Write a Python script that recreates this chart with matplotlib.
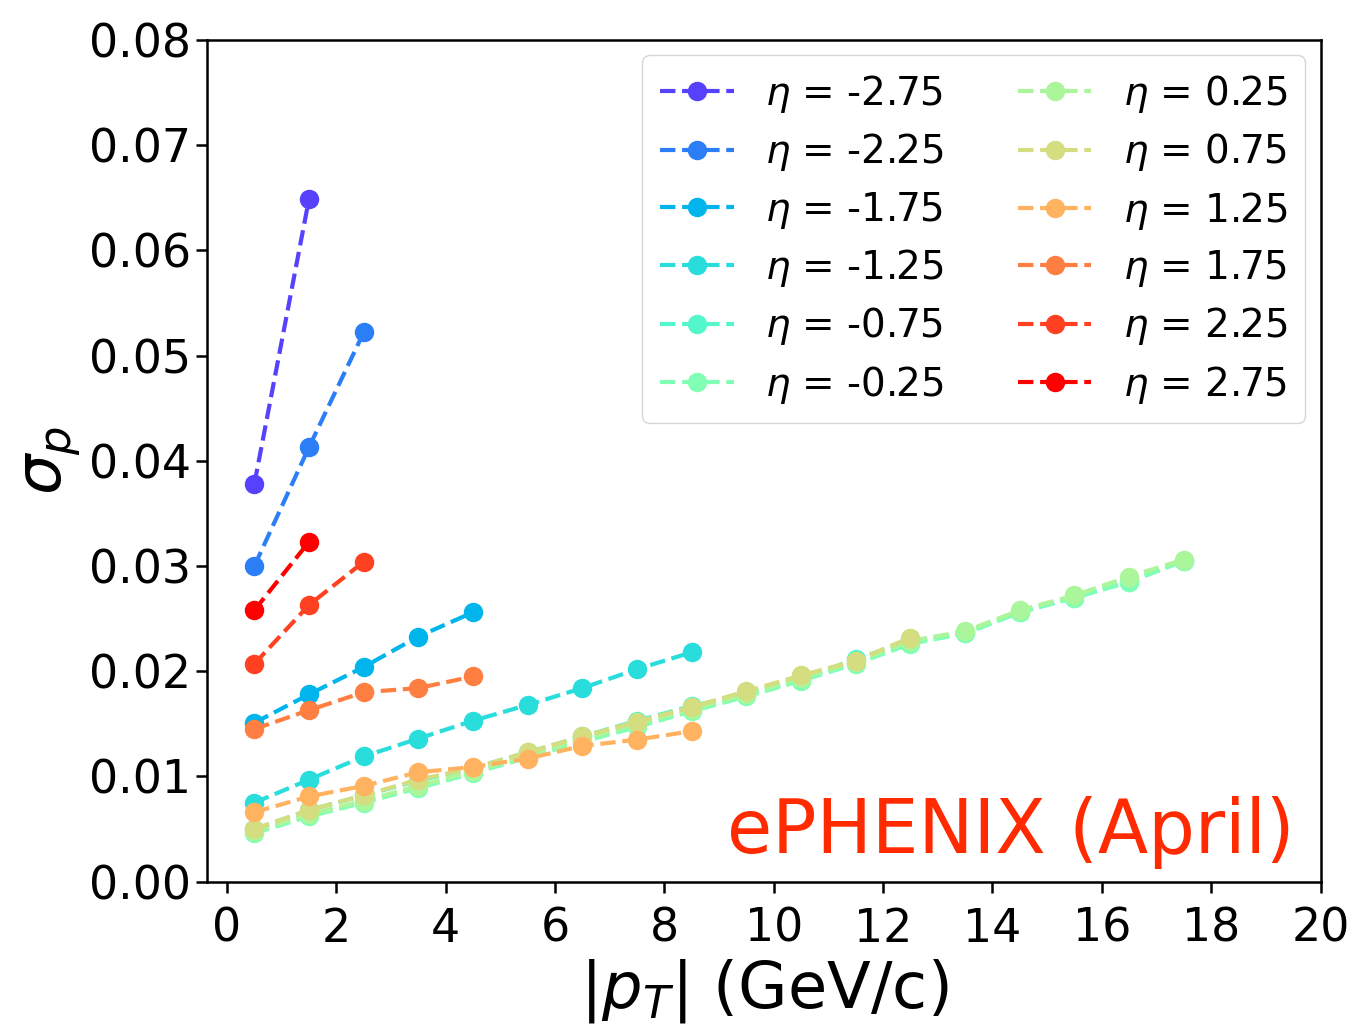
import numpy as np
import matplotlib
matplotlib.use('Agg')
import matplotlib.pyplot as plt

# eta bins and measured momentum resolution vs |pT|
etas = [-2.75, -2.25, -1.75, -1.25, -0.75, -0.25, 0.25, 0.75, 1.25, 1.75, 2.25, 2.75]

pt_full = [0.5, 1.5, 2.5, 3.5, 4.5, 5.5, 6.5, 7.5, 8.5, 9.5, 10.5, 11.5,
           12.5, 13.5, 14.5, 15.5, 16.5, 17.5]

sig_m275 = [0.0378, 0.0649]
sig_m225 = [0.0300, 0.0413, 0.0522]
sig_m175 = [0.0151, 0.0178, 0.0204, 0.0233, 0.0256]
sig_m125 = [0.0075, 0.0097, 0.0119, 0.0136, 0.0153, 0.0168, 0.0184, 0.0202, 0.0218]
sig_m075 = [0.0050, 0.0068, 0.0082, 0.0096, 0.0108, 0.0123, 0.0138, 0.0153, 0.0167,
            0.0178, 0.0192, 0.0212, 0.0228, 0.0236, 0.0256, 0.0270, 0.0285, 0.0305]
sig_m025 = [0.0046, 0.0062, 0.0075, 0.0089, 0.0103, 0.0118, 0.0133, 0.0147, 0.0162,
            0.0176, 0.0191, 0.0207, 0.0226, 0.0236, 0.0256, 0.0270, 0.0285, 0.0305]
sig_p025 = [0.0048, 0.0064, 0.0077, 0.0091, 0.0105, 0.0120, 0.0135, 0.0150, 0.0164,
            0.0178, 0.0194, 0.0209, 0.0229, 0.0238, 0.0258, 0.0272, 0.0290, 0.0306]
sig_p075 = [0.0050, 0.0068, 0.0082, 0.0097, 0.0108, 0.0123, 0.0138, 0.0152, 0.0166,
            0.0181, 0.0196, 0.0210, 0.0232]
sig_p125 = [0.0066, 0.0081, 0.0091, 0.0104, 0.0109, 0.0117, 0.0129, 0.0135, 0.0143]
sig_p175 = [0.0145, 0.0163, 0.0180, 0.0184, 0.0195]
sig_p225 = [0.0207, 0.0263, 0.0304]
sig_p275 = [0.0258, 0.0323]

sigmas = [sig_m275, sig_m225, sig_m175, sig_m125, sig_m075, sig_m025,
          sig_p025, sig_p075, sig_p125, sig_p175, sig_p225, sig_p275]

colors = plt.cm.rainbow(np.linspace(0, 1, 13)[1:])

fig = plt.figure(figsize=(13.53, 10.24), dpi=100)
ax = fig.add_axes([0.153, 0.139, 0.823, 0.822])

for eta, sig, c in zip(etas, sigmas, colors):
    ax.plot(pt_full[:len(sig)], sig, '--o', color=c, lw=3, ms=13,
            label=r'$\eta$ = %s' % eta)

ax.set_xlim(-0.366, 20)
ax.set_ylim(0, 0.08)
ax.set_xticks(np.arange(0, 21, 2))
ax.set_yticks(np.arange(0, 0.081, 0.01))
ax.set_yticklabels(['%.2f' % v for v in np.arange(0, 0.081, 0.01)])
ax.tick_params(labelsize=33, width=1.8, length=8)
ax.tick_params(axis='x', pad=10)
for s in ax.spines.values():
    s.set_linewidth(1.8)

ax.set_xlabel(r'$|p_T|$ (GeV/c)', fontsize=46, labelpad=4)
ax.set_ylabel(r'$\sigma_p$', fontsize=46, labelpad=4)

ax.legend(ncol=2, fontsize=28, loc='upper right', borderaxespad=0.4,
          columnspacing=1.9, handlelength=1.9, handletextpad=0.8,
          labelspacing=0.42, borderpad=0.45)

ax.text(0.977, 0.015, 'ePHENIX (April)', transform=ax.transAxes,
        ha='right', va='bottom', fontsize=53, color='#ff2a00')

fig.savefig('out.png', dpi=100)
